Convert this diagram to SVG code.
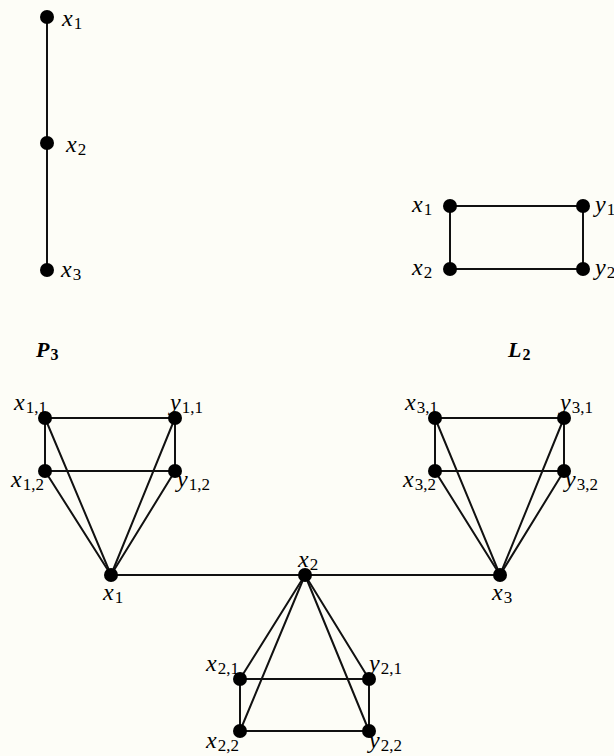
<svg xmlns="http://www.w3.org/2000/svg" width="614" height="756" viewBox="0 0 614 756">
<rect width="614" height="756" fill="#fdfdf7"/>
<g id="edges" stroke="#111" stroke-width="2" fill="none" stroke-linecap="round">
<line x1="47" y1="17" x2="47" y2="270"/>
<line x1="450" y1="206" x2="583" y2="206"/>
<line x1="450" y1="269" x2="583" y2="269"/>
<line x1="450" y1="206" x2="450" y2="269"/>
<line x1="583" y1="206" x2="583" y2="269"/>
<line x1="111" y1="575" x2="500" y2="575"/>
<line x1="45" y1="418" x2="175" y2="418"/>
<line x1="45" y1="471" x2="175" y2="471"/>
<line x1="45" y1="418" x2="45" y2="471"/>
<line x1="175" y1="418" x2="175" y2="471"/>
<line x1="111" y1="575" x2="45" y2="418"/>
<line x1="111" y1="575" x2="45" y2="471"/>
<line x1="111" y1="575" x2="175" y2="418"/>
<line x1="111" y1="575" x2="175" y2="471"/>
<line x1="435" y1="418" x2="564" y2="418"/>
<line x1="435" y1="471" x2="564" y2="471"/>
<line x1="435" y1="418" x2="435" y2="471"/>
<line x1="564" y1="418" x2="564" y2="471"/>
<line x1="500" y1="575" x2="435" y2="418"/>
<line x1="500" y1="575" x2="435" y2="471"/>
<line x1="500" y1="575" x2="564" y2="418"/>
<line x1="500" y1="575" x2="564" y2="471"/>
<line x1="240" y1="679" x2="369" y2="679"/>
<line x1="240" y1="731" x2="369" y2="731"/>
<line x1="240" y1="679" x2="240" y2="731"/>
<line x1="369" y1="679" x2="369" y2="731"/>
<line x1="305" y1="575" x2="240" y2="679"/>
<line x1="305" y1="575" x2="240" y2="731"/>
<line x1="305" y1="575" x2="369" y2="679"/>
<line x1="305" y1="575" x2="369" y2="731"/>
</g>
<g id="nodes" fill="#000" font-family="serif">
<g id="p3-x1"><circle cx="47" cy="17" r="7"/><text font-family="serif" font-style="italic" font-size="24" x="62" y="26">x<tspan font-family="serif" font-style="normal" font-size="17" dy="3" dx="1">1</tspan></text></g>
<g id="p3-x2"><circle cx="47" cy="143" r="7"/><text font-family="serif" font-style="italic" font-size="24" x="66" y="152">x<tspan font-family="serif" font-style="normal" font-size="17" dy="3" dx="1">2</tspan></text></g>
<g id="p3-x3"><circle cx="47" cy="270" r="7"/><text font-family="serif" font-style="italic" font-size="24" x="61" y="277">x<tspan font-family="serif" font-style="normal" font-size="17" dy="3" dx="1">3</tspan></text></g>
<g id="l2-x1"><circle cx="450" cy="206" r="7"/><text font-family="serif" font-style="italic" font-size="24" x="412" y="212">x<tspan font-family="serif" font-style="normal" font-size="17" dy="3" dx="1">1</tspan></text></g>
<g id="l2-y1"><circle cx="583" cy="206" r="7"/><text font-family="serif" font-style="italic" font-size="24" x="595" y="212">y<tspan font-family="serif" font-style="normal" font-size="17" dy="3" dx="1">1</tspan></text></g>
<g id="l2-x2"><circle cx="450" cy="269" r="7"/><text font-family="serif" font-style="italic" font-size="24" x="412" y="275">x<tspan font-family="serif" font-style="normal" font-size="17" dy="3" dx="1">2</tspan></text></g>
<g id="l2-y2"><circle cx="583" cy="269" r="7"/><text font-family="serif" font-style="italic" font-size="24" x="595" y="275">y<tspan font-family="serif" font-style="normal" font-size="17" dy="3" dx="1">2</tspan></text></g>
<g id="label-p3"><text font-family="serif" font-style="italic" font-weight="bold" font-size="22" x="36" y="357">P<tspan font-family="serif" font-style="normal" font-size="16" dy="3" dx="1">3</tspan></text></g>
<g id="label-l2"><text font-family="serif" font-style="italic" font-weight="bold" font-size="22" x="508" y="357">L<tspan font-family="serif" font-style="normal" font-size="16" dy="3" dx="1">2</tspan></text></g>
<g id="x11"><circle cx="45" cy="418" r="7"/><text font-family="serif" font-style="italic" font-size="24" x="14" y="410">x<tspan font-family="serif" font-style="normal" font-size="17" dy="3" dx="1">1,1</tspan></text></g>
<g id="y11"><circle cx="175" cy="418" r="7"/><text font-family="serif" font-style="italic" font-size="24" x="170" y="410">y<tspan font-family="serif" font-style="normal" font-size="17" dy="3" dx="1">1,1</tspan></text></g>
<g id="x12"><circle cx="45" cy="471" r="7"/><text font-family="serif" font-style="italic" font-size="24" x="11" y="487">x<tspan font-family="serif" font-style="normal" font-size="17" dy="3" dx="1">1,2</tspan></text></g>
<g id="y12"><circle cx="175" cy="471" r="7"/><text font-family="serif" font-style="italic" font-size="24" x="177" y="487">y<tspan font-family="serif" font-style="normal" font-size="17" dy="3" dx="1">1,2</tspan></text></g>
<g id="x1"><circle cx="111" cy="575" r="7"/><text font-family="serif" font-style="italic" font-size="24" x="103" y="600">x<tspan font-family="serif" font-style="normal" font-size="17" dy="3" dx="1">1</tspan></text></g>
<g id="x31"><circle cx="435" cy="418" r="7"/><text font-family="serif" font-style="italic" font-size="24" x="405" y="410">x<tspan font-family="serif" font-style="normal" font-size="17" dy="3" dx="1">3,1</tspan></text></g>
<g id="y31"><circle cx="564" cy="418" r="7"/><text font-family="serif" font-style="italic" font-size="24" x="560" y="410">y<tspan font-family="serif" font-style="normal" font-size="17" dy="3" dx="1">3,1</tspan></text></g>
<g id="x32"><circle cx="435" cy="471" r="7"/><text font-family="serif" font-style="italic" font-size="24" x="403" y="487">x<tspan font-family="serif" font-style="normal" font-size="17" dy="3" dx="1">3,2</tspan></text></g>
<g id="y32"><circle cx="564" cy="471" r="7"/><text font-family="serif" font-style="italic" font-size="24" x="565" y="487">y<tspan font-family="serif" font-style="normal" font-size="17" dy="3" dx="1">3,2</tspan></text></g>
<g id="x3"><circle cx="500" cy="575" r="7"/><text font-family="serif" font-style="italic" font-size="24" x="492" y="600">x<tspan font-family="serif" font-style="normal" font-size="17" dy="3" dx="1">3</tspan></text></g>
<g id="x2"><circle cx="305" cy="575" r="7"/><text font-family="serif" font-style="italic" font-size="24" x="298" y="567">x<tspan font-family="serif" font-style="normal" font-size="17" dy="3" dx="1">2</tspan></text></g>
<g id="x21"><circle cx="240" cy="679" r="7"/><text font-family="serif" font-style="italic" font-size="24" x="206" y="671">x<tspan font-family="serif" font-style="normal" font-size="17" dy="3" dx="1">2,1</tspan></text></g>
<g id="y21"><circle cx="369" cy="679" r="7"/><text font-family="serif" font-style="italic" font-size="24" x="369" y="671">y<tspan font-family="serif" font-style="normal" font-size="17" dy="3" dx="1">2,1</tspan></text></g>
<g id="x22"><circle cx="240" cy="731" r="7"/><text font-family="serif" font-style="italic" font-size="24" x="206" y="748">x<tspan font-family="serif" font-style="normal" font-size="17" dy="3" dx="1">2,2</tspan></text></g>
<g id="y22"><circle cx="369" cy="731" r="7"/><text font-family="serif" font-style="italic" font-size="24" x="369" y="748">y<tspan font-family="serif" font-style="normal" font-size="17" dy="3" dx="1">2,2</tspan></text></g>
</g>
</svg>
